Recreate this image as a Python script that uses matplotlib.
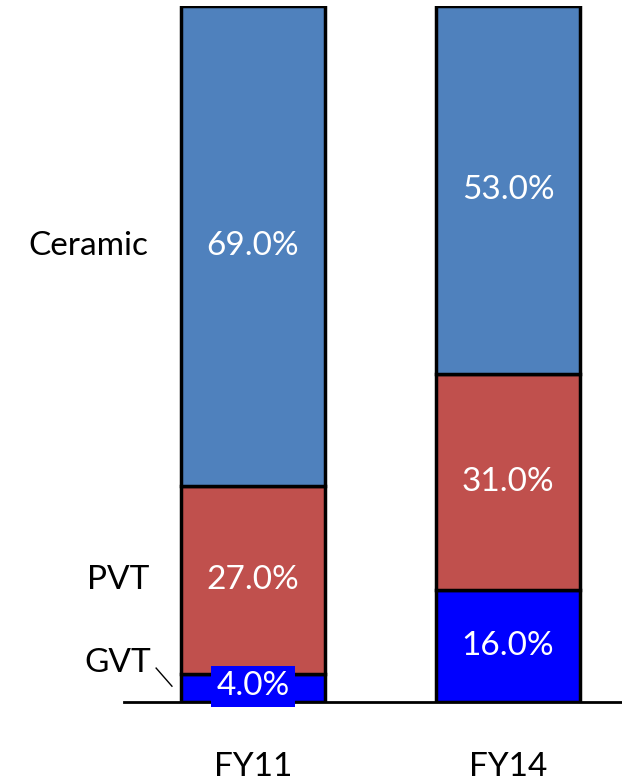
import matplotlib.pyplot as plt
import numpy as np

plt.rcParams['font.family'] = ['Lato', 'DejaVu Sans']

years = ['FY11', 'FY14']
gvt = [4.0, 16.0]
pvt = [27.0, 31.0]
ceramic = [69.0, 53.0]
series = ['GVT', 'PVT', 'Ceramic']
colors = ['#0000FF', '#C0504D', '#4F81BD']

fig = plt.figure(figsize=(6.22, 7.83), dpi=100)
ax = fig.add_axes([124 / 622, (783 - 701.5) / 783, 498 / 622, 696 / 783])

x = np.arange(len(years))
width = 0.565
bottom = np.zeros(len(years))
for vals, c in zip([gvt, pvt, ceramic], colors):
    ax.bar(x, vals, width, bottom=bottom, color=c, edgecolor='black', linewidth=2.5, zorder=2)
    for xi, b, v in zip(x, bottom, vals):
        if xi == 0 and v == gvt[0]:
            # small segment: label sits in a box that spills over the bar
            ax.text(xi, 2.2, f'{v:.1f}%', color='white', fontsize=24,
                    ha='center', va='center', zorder=4,
                    bbox=dict(facecolor=c, edgecolor='none', pad=4))
        else:
            ax.text(xi, b + v / 2, f'{v:.1f}%', color='white', fontsize=24,
                    ha='center', va='center', zorder=4)
    bottom += np.array(vals)

ax.set_xlim(-0.506, 1.447)
ax.set_ylim(0, 100)
ax.axhline(0, color='black', linewidth=2, zorder=3, clip_on=False)
for s in ax.spines.values():
    s.set_visible(False)
ax.set_yticks([])
ax.set_xticks(x)
ax.set_xticklabels(years, fontsize=24)
ax.tick_params(axis='x', length=0, pad=36)

# series labels on the left of the first bar
ax.text(-0.645, gvt[0] + pvt[0] + ceramic[0] / 2, 'Ceramic', fontsize=24, ha='center', va='center')
ax.text(-0.53, gvt[0] + pvt[0] / 2, 'PVT', fontsize=24, ha='center', va='center')
ax.text(-0.53, 5.5, 'GVT', fontsize=24, ha='center', va='center')
ax.plot([-0.38, -0.318], [4.8, 2.2], color='black', linewidth=1, clip_on=False)

fig.savefig('out.png', dpi=100)
